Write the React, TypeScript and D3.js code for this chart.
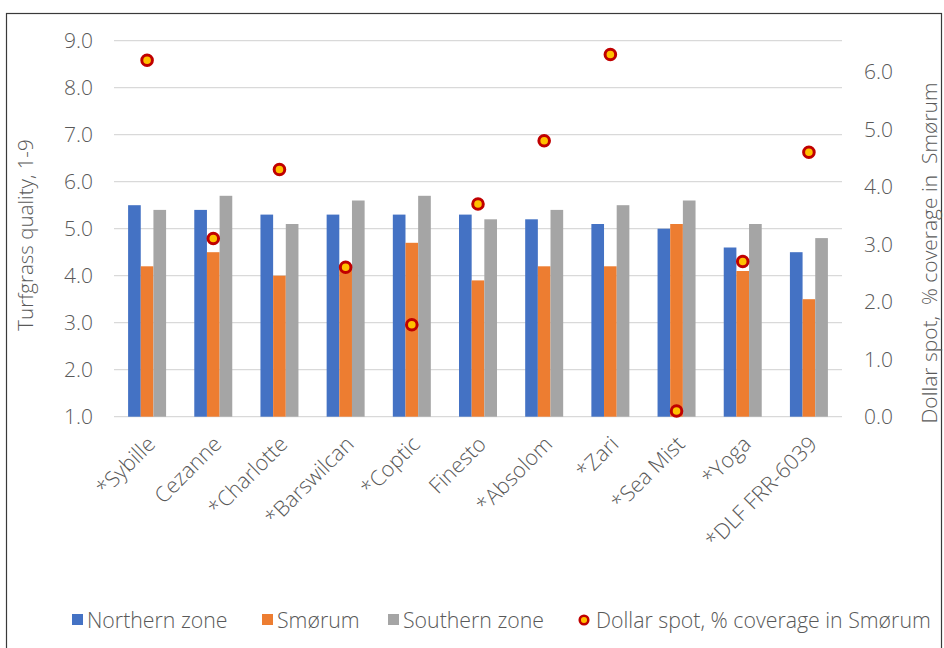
import React, { useEffect, useRef } from "react";
import * as d3 from "d3";

const varieties = ["*Sybille", "Cezanne", "*Charlotte", "*Barswilcan", "*Coptic", "Finesto", "*Absolom", "*Zari", "*Sea Mist", "*Yoga", "*DLF FRR-6039"];
const northern = [5.5, 5.4, 5.3, 5.3, 5.3, 5.3, 5.2, 5.1, 5.0, 4.6, 4.5];
const smorum = [4.2, 4.5, 4.0, 4.2, 4.7, 3.9, 4.2, 4.2, 5.1, 4.1, 3.5];
const southern = [5.4, 5.7, 5.1, 5.6, 5.7, 5.2, 5.4, 5.5, 5.6, 5.1, 4.8];
const dollarSpot = [6.2, 3.1, 4.3, 2.6, 1.6, 3.7, 4.8, 6.3, 0.1, 2.7, 4.6];
const leftTicks = [1, 2, 3, 4, 5, 6, 7, 8, 9];
const rightTicks = [0, 1, 2, 3, 4, 5, 6];
const seriesNames = ["Northern zone", "Smørum", "Southern zone"];
const dotName = "Dollar spot, % coverage in Smørum";

const COLORS = ["#4472C4", "#ED7D31", "#A5A5A5"];
const FONT = "'Open Sans', sans-serif";
const TXT = "#595959";

function App() {
  const svgRef = useRef<SVGSVGElement>(null);

  useEffect(() => {
    const W = 944, H = 648;
    const M = { left: 114, right: 842, top: 40.7, bottom: 416.7 };
    const svg = d3.select(svgRef.current).attr("width", W).attr("height", H);
    svg.selectAll("*").remove();

    // frame
    svg.append("rect").attr("x", 6.5).attr("y", 13.5).attr("width", 935).attr("height", 650)
      .attr("fill", "white").attr("stroke", "#3a3a3a").attr("stroke-width", 1.2);

    const x0 = d3.scaleBand().domain(varieties).range([M.left, M.right]).paddingInner(0.426).paddingOuter(0.213);
    const x1 = d3.scaleBand().domain(["0", "1", "2"]).range([0, x0.bandwidth()]);
    const yL = d3.scaleLinear().domain([1, 9]).range([M.bottom, M.top]);
    const yR = d3.scaleLinear().domain([0, 6.5]).range([M.bottom, M.bottom - 6.5 * 57.5]);

    // grid
    svg.append("g").selectAll("line").data(leftTicks).join("line")
      .attr("x1", M.left).attr("x2", M.right)
      .attr("y1", d => yL(d)).attr("y2", d => yL(d))
      .attr("stroke", "#D9D9D9").attr("stroke-width", 1.3);

    // left tick labels
    svg.append("g").selectAll("text").data(leftTicks).join("text")
      .attr("x", 93).attr("y", d => yL(d)).attr("dy", "0.36em")
      .attr("text-anchor", "end").attr("font-family", FONT).attr("font-weight", 300).attr("font-size", 21).attr("fill", TXT)
      .text(d => d3.format(".1f")(d));

    // right tick labels
    svg.append("g").selectAll("text").data(rightTicks).join("text")
      .attr("x", 864).attr("y", d => yR(d)).attr("dy", "0.36em")
      .attr("text-anchor", "start").attr("font-family", FONT).attr("font-weight", 300).attr("font-size", 21).attr("fill", TXT)
      .text(d => d3.format(".1f")(d));

    // axis titles
    svg.append("text").attr("transform", `translate(26, 235) rotate(-90)`)
      .attr("text-anchor", "middle").attr("dy", "0.36em").attr("font-family", FONT).attr("font-weight", 300).attr("font-size", 20.5).attr("fill", TXT)
      .text("Turfgrass quality, 1-9");
    svg.append("text").attr("transform", `translate(929, 253) rotate(-90)`)
      .attr("text-anchor", "middle").attr("dy", "0.36em").attr("font-family", FONT).attr("font-weight", 300).attr("font-size", 21).attr("fill", TXT)
      .style("white-space", "pre")
      .text("Dollar spot,  % coverage in  Smørum");

    // bars
    const series = [northern, smorum, southern];
    series.forEach((vals, si) => {
      svg.append("g").selectAll("rect").data(vals).join("rect")
        .attr("x", (d, i) => (x0(varieties[i]) ?? 0) + (x1(String(si)) ?? 0))
        .attr("width", x1.bandwidth())
        .attr("y", d => yL(d))
        .attr("height", d => yL(1) - yL(d))
        .attr("fill", COLORS[si]);
    });

    // dots
    svg.append("g").selectAll("circle").data(dollarSpot).join("circle")
      .attr("cx", (d, i) => (x0(varieties[i]) ?? 0) + x0.bandwidth() / 2)
      .attr("cy", d => yR(d))
      .attr("r", 5.3).attr("fill", "#FFC000").attr("stroke", "#C00000").attr("stroke-width", 3);

    // x labels
    svg.append("g").selectAll("text").data(varieties).join("text")
      .attr("transform", d => `translate(${(x0(d) ?? 0) + x0.bandwidth() / 2 + 4}, 440) rotate(-45)`)
      .attr("text-anchor", "end").attr("dy", "0.36em")
      .attr("font-family", FONT).attr("font-weight", 300).attr("font-size", 21.5).attr("fill", TXT)
      .text(d => d);

    // legend
    const lg = svg.append("g").attr("font-family", FONT).attr("font-weight", 300).attr("font-size", 21.3).attr("fill", TXT);
    const legendX = [72, 262, 388];
    seriesNames.forEach((name, i) => {
      lg.append("rect").attr("x", legendX[i]).attr("y", 614).attr("width", 11).attr("height", 11).attr("fill", COLORS[i]);
      lg.append("text").attr("x", legendX[i] + 15).attr("y", 620).attr("dy", "0.36em").text(name);
    });
    lg.append("circle").attr("cx", 584).attr("cy", 620).attr("r", 4.3)
      .attr("fill", "#FFC000").attr("stroke", "#C00000").attr("stroke-width", 2.5);
    lg.append("text").attr("x", 596).attr("y", 620).attr("dy", "0.36em").text(dotName);
  }, []);

  return (
    <div style={{ position: "absolute", left: 0, top: 0 }}>
      <svg ref={svgRef}></svg>
    </div>
  );
}

export default App;
